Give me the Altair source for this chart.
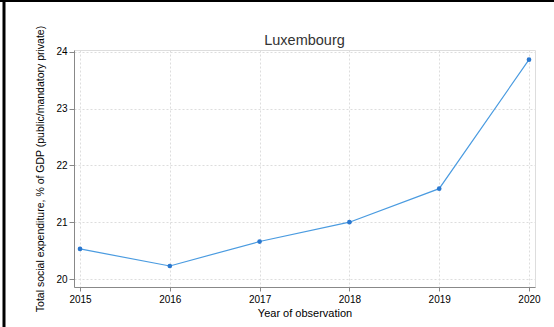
import altair as alt
import pandas as pd

years = [2015, 2016, 2017, 2018, 2019, 2020]
values = [20.53, 20.23, 20.66, 21.0, 21.59, 23.86]
y_ticks = [20, 21, 22, 23, 24]
title_text = "Luxembourg"

df = pd.DataFrame({"year": years, "value": values})
one = pd.DataFrame({"t": [title_text]})

FONT = "Liberation Sans"

x = alt.X("year:Q", title="Year of observation",
          scale=alt.Scale(domain=[2014.933, 2020.067], nice=False, zero=False),
          axis=alt.Axis(values=years, format="d", tickSize=4, labelPadding=3,
                        titlePadding=3, gridDash=[2, 2], titleFontWeight=400))
y = alt.Y("value:Q", title="Total social expenditure, % of GDP (public/mandatory private)",
          scale=alt.Scale(domain=[19.86, 24.03], nice=False, zero=False),
          axis=alt.Axis(values=y_ticks, tickSize=5, labelPadding=2, titlePadding=10,
                        gridDash=[2, 2], titleFontWeight=400, titleFontSize=10.5))

line = alt.Chart(df).mark_line(color="#4a9be0", strokeWidth=1.2).encode(x=x, y=y)
pts = alt.Chart(df).mark_point(filled=True, color="#2a78d0", size=22, opacity=1).encode(x=x, y=y)

title = alt.Chart(one).mark_text(font=FONT, fontSize=14.5, fontWeight="normal", color="#333",
                                 align="center", baseline="alphabetic").encode(
    x=alt.value(230.5), y=alt.value(-5), text="t:N")

frame_left = alt.Chart(one).mark_rule(color="black", strokeWidth=3).encode(
    x=alt.value(-70), y=alt.value(-50), y2=alt.value(277))
frame_top = alt.Chart(one).mark_rule(color="black", strokeWidth=2).encode(
    x=alt.value(-74), x2=alt.value(480), y=alt.value(-49))

chart = alt.layer(line, pts, title, frame_left, frame_top).properties(
    width=461, height=237,
    autosize=alt.AutoSizeParams(type="none"),
    padding={"left": 74, "top": 50, "right": 19, "bottom": 40},
).configure_view(stroke=None).configure_axis(
    labelFont=FONT, titleFont=FONT, labelFontSize=10, titleFontSize=10,
    labelColor="#444", titleColor="#444", titleFontWeight=400,
    domainColor="#555", tickColor="#555", gridColor="#ebebeb"
).configure(background="white")

chart.save("out.html", embed_options={"renderer": "svg", "actions": False})
